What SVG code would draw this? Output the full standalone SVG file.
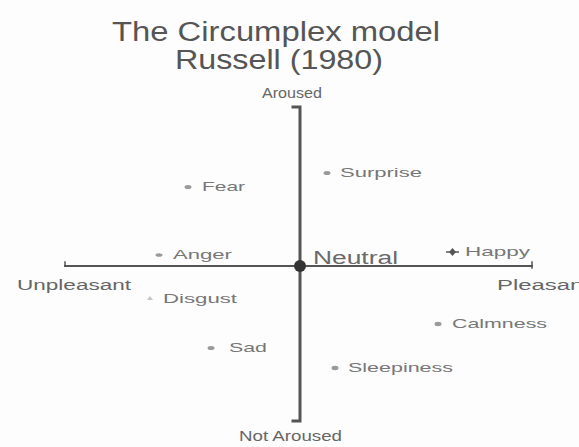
<svg xmlns="http://www.w3.org/2000/svg" width="579" height="447" viewBox="0 0 579 447">
<style>
text{font-family:"Liberation Sans",Arial,sans-serif;fill:#6a6a6a}
.title{font-size:27px;fill:#555}
.lbl{font-size:13px;fill:#777}
.axl{font-size:14px;fill:#666}
.dot{fill:#9a9a9a}
.axis{stroke:#555;fill:none;stroke-linecap:square}
</style>
<rect width="579" height="447" fill="#fdfdfd"/>
<g id="title">
<text class="title" x="112" y="41" textLength="328" lengthAdjust="spacingAndGlyphs">The Circumplex model</text>
<text class="title" x="175" y="69" textLength="208" lengthAdjust="spacingAndGlyphs">Russell (1980)</text>
</g>
<g id="connectors">
<path class="axis" stroke-width="3" d="M293,107 H300 V421 H293"/>
<path class="axis" stroke-width="2" d="M65,266 H532"/>
<path class="axis" stroke-width="1.5" d="M65,262 V266 M532,262 V268"/>
</g>
<g id="aroused"><text class="axl" x="262" y="98" textLength="60" lengthAdjust="spacingAndGlyphs">Aroused</text></g>
<g id="not-aroused"><text class="axl" x="239" y="441" textLength="103" lengthAdjust="spacingAndGlyphs">Not Aroused</text></g>
<g id="unpleasant"><text class="axl" x="17" y="290" textLength="114" lengthAdjust="spacingAndGlyphs">Unpleasant</text></g>
<g id="pleasant"><text class="axl" x="497" y="290" textLength="93" lengthAdjust="spacingAndGlyphs">Pleasant</text></g>
<g id="neutral">
<circle cx="300" cy="266" r="6" fill="#333"/>
<text x="313" y="264" font-size="18" fill="#666" textLength="85" lengthAdjust="spacingAndGlyphs">Neutral</text>
</g>
<g id="fear"><ellipse class="dot" cx="188" cy="187" rx="3.5" ry="2"/><text class="lbl" x="202" y="191" textLength="43" lengthAdjust="spacingAndGlyphs">Fear</text></g>
<g id="surprise"><ellipse class="dot" cx="327" cy="173" rx="3.5" ry="2"/><text class="lbl" x="340" y="177" textLength="82" lengthAdjust="spacingAndGlyphs">Surprise</text></g>
<g id="anger"><ellipse class="dot" cx="159" cy="255" rx="3.5" ry="1.8" fill="#bbb"/><text class="lbl" x="173" y="259" textLength="59" lengthAdjust="spacingAndGlyphs">Anger</text></g>
<g id="happy">
<path d="M446,252 H459" stroke="#555" stroke-width="1.5"/>
<path d="M452.5,248 L456,252 L452.5,256 L449,252 Z" fill="#555"/>
<text class="lbl" x="465" y="256" textLength="65" lengthAdjust="spacingAndGlyphs">Happy</text>
</g>
<g id="disgust"><path d="M147,300 L150,296 L153,300 Z" fill="#c4c4c4"/><text class="lbl" x="163" y="303" textLength="74" lengthAdjust="spacingAndGlyphs">Disgust</text></g>
<g id="calmness"><ellipse class="dot" cx="438" cy="324" rx="3.5" ry="2.2"/><text class="lbl" x="452" y="328" textLength="95" lengthAdjust="spacingAndGlyphs">Calmness</text></g>
<g id="sad"><ellipse class="dot" cx="211" cy="348" rx="3.5" ry="2"/><text class="lbl" x="229" y="352" textLength="38" lengthAdjust="spacingAndGlyphs">Sad</text></g>
<g id="sleepiness"><ellipse class="dot" cx="335" cy="368" rx="3.5" ry="2.2"/><text class="lbl" x="348" y="372" textLength="105" lengthAdjust="spacingAndGlyphs">Sleepiness</text></g>
</svg>
